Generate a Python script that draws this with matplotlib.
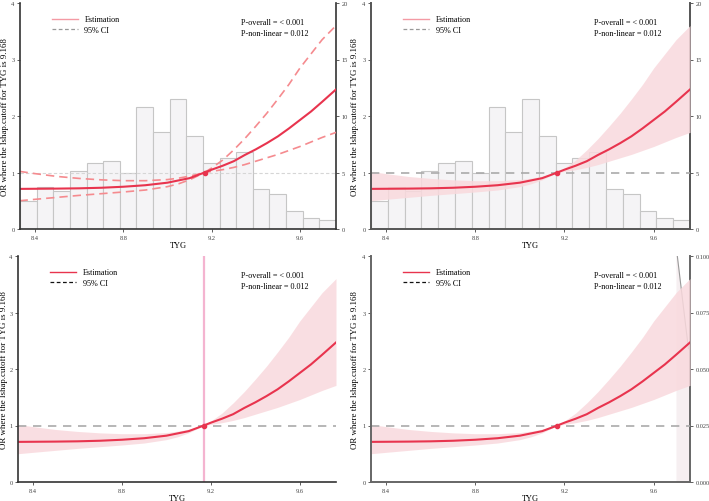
import numpy as np
import matplotlib
matplotlib.use("Agg")
import matplotlib.pyplot as plt
from matplotlib.lines import Line2D

plt.rcParams['font.family'] = ['Liberation Serif', 'DejaVu Serif']

# spline estimate of OR vs TYG
tyg = [8.33, 8.4, 8.5, 8.6, 8.7, 8.8, 8.9, 9.0, 9.05, 9.1, 9.168, 9.2, 9.25,
       9.3, 9.35, 9.4, 9.45, 9.5, 9.55, 9.6, 9.65, 9.7, 9.763]
est = [0.71, 0.712, 0.715, 0.72, 0.73, 0.748, 0.775, 0.82, 0.86, 0.9, 1.0, 1.05, 1.12,
       1.20, 1.31, 1.41, 1.52, 1.64, 1.78, 1.93, 2.08, 2.25, 2.47]
upper = [1.02, 0.98, 0.93, 0.895, 0.87, 0.855, 0.855, 0.875, 0.9, 0.935, 1.0, 1.08, 1.22,
         1.40, 1.60, 1.82, 2.05, 2.30, 2.56, 2.85, 3.10, 3.35, 3.60]
lower = [0.50, 0.525, 0.56, 0.595, 0.625, 0.655, 0.69, 0.75, 0.80, 0.87, 1.0, 1.02, 1.05,
         1.09, 1.14, 1.20, 1.26, 1.32, 1.39, 1.46, 1.54, 1.62, 1.71]

cutoff = 9.168
ref_or = 1.0

# histogram of TYG (right axis, 19 bins)
hist_lo, hist_hi = 8.332, 9.763
hist_counts = [2.5, 3.68, 3.32, 5.09, 5.88, 6.06, 4.94, 10.8, 8.62, 11.53,
               8.24, 5.88, 6.24, 6.85, 3.5, 3.12, 1.56, 0.94, 0.79]

# density sliver on bottom-right panel
dens_x = [9.700, 9.756]
dens_y = [0.105, 0.059]

p_texts = ["P-overall = < 0.001", "P-non-linear = 0.012"]
ylab = "OR where the lshap.cutoff for TYG is 9.168"
xticks = [8.4, 8.8, 9.2, 9.6]

RED = "#e8344e"
BAND = "#f9d9dd"

fig = plt.figure(figsize=(7.09, 5.02), dpi=100)
W, H = 709, 502


def make_ax(l, r, t, b):
    return fig.add_axes([l / W, (H - b) / H, (r - l) / W, (b - t) / H])


def base(ax, spine_col, spine_lw, lab_x):
    ax.set_xlim(8.332, 9.763)
    ax.set_ylim(0, 4)
    ax.set_xticks(xticks)
    ax.set_xticklabels([f"{v:.1f}" for v in xticks])
    ax.set_yticks([0, 1, 2, 3, 4])
    ax.tick_params(labelsize=4.6, length=2.5, width=0.6, pad=1.5,
                   colors="#444444")
    for s in ["top", "right"]:
        ax.spines[s].set_visible(False)
    for s in ["left", "bottom"]:
        ax.spines[s].set_color(spine_col)
        ax.spines[s].set_linewidth(spine_lw)
    ax.set_xlabel("TYG", fontsize=6)
    ax.xaxis.set_label_coords(0.5, -0.055)
    ax.set_ylabel(ylab, fontsize=6.4)
    ax.yaxis.set_label_coords(lab_x, 0.5)
    ax.text(0.70, 0.918, p_texts[0], transform=ax.transAxes, fontsize=5.9, va="center")
    ax.text(0.70, 0.866, p_texts[1], transform=ax.transAxes, fontsize=5.9, va="center")


def legend(ax, est_col, ci_col):
    h = [Line2D([], [], color=est_col, lw=1.0),
         Line2D([], [], color=ci_col, lw=0.9, ls=(0, (3, 2)))]
    ax.legend(h, ["Estimation", "95% CI"], loc="upper left",
              bbox_to_anchor=(0.1, 0.945), frameon=False, fontsize=5.9,
              handlelength=3.2, handletextpad=0.8, labelspacing=0.3,
              borderpad=0, borderaxespad=0)


def hist(ax, spine_col, spine_lw):
    ax2 = ax.twinx()
    edges = np.linspace(hist_lo, hist_hi, len(hist_counts) + 1)
    ax2.bar(edges[:-1], hist_counts, width=np.diff(edges), align="edge",
            color="#f5f4f6", edgecolor="#c6c6c6", linewidth=0.8)
    ax2.set_ylim(0, 20)
    ax2.set_yticks([0, 5, 10, 15, 20])
    ax2.tick_params(labelsize=4.6, length=2.5, width=0.6, pad=1.5, colors="#444444")
    for s in ["top", "left", "bottom"]:
        ax2.spines[s].set_visible(False)
    ax2.spines["right"].set_color(spine_col)
    ax2.spines["right"].set_linewidth(spine_lw)
    ax.set_zorder(ax2.get_zorder() + 1)
    ax.patch.set_visible(False)
    return ax2


# top-left: dashed CI lines with histogram
ax = make_ax(20, 336, 4, 230)
base(ax, "#333333", 1.2, -0.036)
hist(ax, "#333333", 1.2)
ax.axhline(ref_or, color="#d6d6d6", lw=0.8, ls=(0, (3, 2)))
ax.plot(tyg, upper, color="#f58b8f", lw=1.2, ls=(0, (5, 3)))
ax.plot(tyg, lower, color="#f58b8f", lw=1.2, ls=(0, (5, 3)))
ax.plot(tyg, est, color=RED, lw=1.5)
ax.plot([cutoff], [ref_or], "o", color=RED, ms=3)
legend(ax, "#f49aa4", "#999999")

# top-right: shaded CI with histogram
ax = make_ax(371, 690, 4, 230)
base(ax, "#555555", 1.4, -0.038)
hist(ax, "#555555", 1.4)
ax.fill_between(tyg, lower, upper, color=BAND, alpha=0.85, lw=0)
ax.axhline(ref_or, color="#aaaaaa", lw=1.2, ls=(0, (5, 4)))
ax.plot(tyg, est, color=RED, lw=1.5)
ax.plot([cutoff], [ref_or], "o", color=RED, ms=3)
legend(ax, "#f49aa4", "#999999")

# bottom-left: shaded CI with cutoff line
ax = make_ax(18, 336, 257, 483)
base(ax, "#333333", 1.2, -0.030)
ax.fill_between(tyg, lower, upper, color=BAND, alpha=0.85, lw=0)
ax.axhline(ref_or, color="#aaaaaa", lw=1.2, ls=(0, (5, 4)))
ax.axvline(cutoff, color="#f4b4d0", lw=1.6)
ax.plot(tyg, est, color=RED, lw=1.5)
ax.plot([cutoff], [ref_or], "o", color=RED, ms=3)
legend(ax, RED, "#111111")

# bottom-right: shaded CI with density on right axis
ax = make_ax(371, 690, 257, 483)
base(ax, "#666666", 1.4, -0.038)
ax2 = ax.twinx()
ax2.fill_between(dens_x, 0, dens_y, color="#f3e9ec", alpha=0.7, lw=0)
ax2.plot(dens_x, dens_y, color="#999999", lw=0.8)
ax2.set_ylim(0, 0.1)
ax2.set_yticks([0, 0.025, 0.05, 0.075, 0.1])
ax2.set_yticklabels(["0.000", "0.025", "0.050", "0.075", "0.100"])
ax2.tick_params(labelsize=4.6, length=2.5, width=0.6, pad=1.5, colors="#444444")
for s in ["top", "left", "bottom"]:
    ax2.spines[s].set_visible(False)
ax2.spines["right"].set_color("#666666")
ax2.spines["right"].set_linewidth(1.4)
ax.set_zorder(ax2.get_zorder() + 1)
ax.patch.set_visible(False)
ax.fill_between(tyg, lower, upper, color=BAND, alpha=0.85, lw=0)
ax.axhline(ref_or, color="#aaaaaa", lw=1.2, ls=(0, (5, 4)))
ax.plot(tyg, est, color=RED, lw=1.5)
ax.plot([cutoff], [ref_or], "o", color=RED, ms=3)
legend(ax, RED, "#111111")

fig.savefig("out.png", dpi=100)
